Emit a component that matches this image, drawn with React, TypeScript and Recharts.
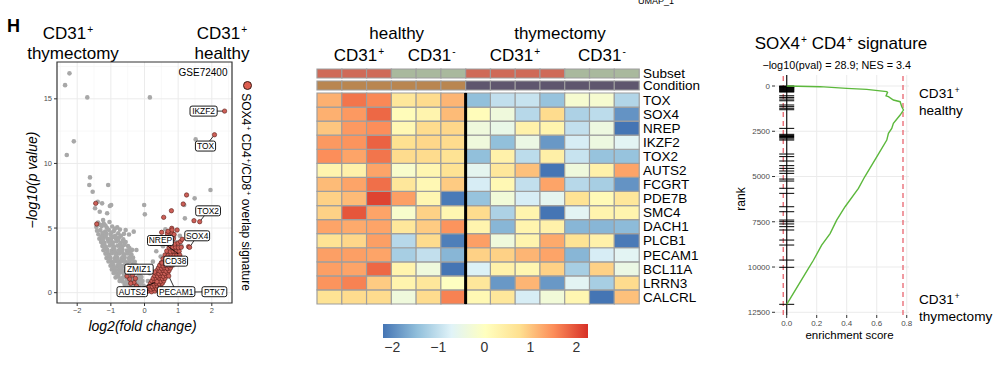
import React from 'react';
import {
  ScatterChart, Scatter, XAxis, YAxis, CartesianGrid, ReferenceArea, ReferenceLine,
  BarChart, Bar, Cell, ComposedChart,
} from 'recharts';

const FONT = '"Liberation Sans", Arial, Helvetica, sans-serif';

// ---------- volcano (GSE72400) ----------
const volcanoOther: [number, number][] = [
  [-2.23, 16.97], [-2.36, 16.06], [-1.70, 15.11], [0.16, 15.11], [1.52, 11.86], [-2.10, 11.71],
  [-2.31, 10.65], [-1.62, 8.92], [-1.64, 8.33], [-1.08, 8.33], [-1.54, 7.81], [-1.26, 6.91],
  [-1.03, 6.71], [-0.01, 6.78], [0.01, 6.06], [1.49, 7.30], [1.96, 7.94], [1.18, 6.78], [1.20, 5.75],
  [-1.39, 7.04], [-1.47, 6.53], [-1.33, 6.26], [-1.23, 5.62], [-1.11, 6.14], [-0.99, 6.78],
  [-0.56, 4.85], [-0.32, 4.72], [-0.24, 3.30],
  [-1.38, 5.42], [-1.21, 5.35], [-1.04, 5.47],
  [-1.43, 5.08], [-1.27, 5.15], [-1.12, 5.02], [-0.96, 5.12], [-0.81, 5.05],
  [-1.41, 4.79], [-1.31, 4.84], [-1.17, 4.73], [-1.06, 4.86], [-0.91, 4.77], [-0.73, 4.88],
  [-1.37, 4.52], [-1.24, 4.45], [-1.13, 4.58], [-1.01, 4.49], [-0.87, 4.41], [-0.61, 4.55], [-0.46, 4.50],
  [-1.34, 4.18], [-1.21, 4.25], [-1.09, 4.14], [-0.99, 4.22], [-0.85, 4.17], [-0.76, 4.27], [-0.63, 4.12],
  [-1.29, 3.93], [-1.19, 3.86], [-1.07, 3.95], [-0.94, 3.88], [-0.83, 3.97], [-0.71, 3.84], [-0.56, 3.92],
  [-1.25, 3.62], [-1.15, 3.55], [-1.03, 3.66], [-0.91, 3.58], [-0.79, 3.63], [-0.67, 3.54], [-0.49, 3.61],
  [-1.22, 3.28], [-1.11, 3.35], [-0.98, 3.24], [-0.89, 3.33], [-0.76, 3.27], [-0.66, 3.36], [-0.53, 3.25], [-0.37, 3.31],
  [-1.16, 3.02], [-1.05, 2.95], [-0.96, 3.06], [-0.83, 2.98], [-0.74, 3.04], [-0.61, 2.96], [-0.51, 3.03], [-0.39, 2.97],
  [-1.13, 2.68], [-1.02, 2.74], [-0.89, 2.66], [-0.81, 2.72], [-0.68, 2.65], [-0.59, 2.73], [-0.46, 2.67], [-0.34, 2.71],
  [-1.07, 2.42], [-0.96, 2.36], [-0.87, 2.44], [-0.75, 2.38], [-0.66, 2.45], [-0.54, 2.35], [-0.45, 2.43], [-0.29, 2.39],
  [-1.01, 2.08], [-0.93, 2.14], [-0.81, 2.05], [-0.71, 2.12], [-0.63, 2.06], [-0.51, 2.13], [-0.42, 2.07], [-0.26, 2.11],
  [-0.97, 1.79], [-0.88, 1.84], [-0.76, 1.77], [-0.68, 1.83], [-0.56, 1.76], [-0.48, 1.82], [-0.36, 1.78], [-0.23, 1.85],
  [-0.92, 1.52], [-0.81, 1.46], [-0.73, 1.54], [-0.61, 1.48], [-0.53, 1.55], [-0.41, 1.47], [-0.31, 1.53], [-0.17, 1.49],
  [-0.86, 1.18], [-0.77, 1.24], [-0.64, 1.16], [-0.56, 1.22], [-0.44, 1.17], [-0.35, 1.23], [-0.21, 1.19], [-0.09, 1.21],
  [-0.74, 0.91], [-0.65, 0.86], [-0.53, 0.93], [-0.43, 0.88], [-0.32, 0.92], [-0.21, 0.87], [-0.06, 0.90],
  [-0.59, 0.62], [-0.48, 0.57], [-0.39, 0.63], [-0.26, 0.58], [-0.16, 0.61], [-0.03, 0.56],
  [-0.41, 0.31], [-0.31, 0.27], [-0.17, 0.33], [-0.07, 0.28], [0.04, 0.32],
  [-0.21, 0.09], [-0.09, 0.12], [0.02, 0.08],
  [-1.32, 5.25], [-1.16, 5.20], [-0.88, 4.95], [-1.25, 4.62], [-0.98, 4.65], [-0.78, 4.60], [-1.28, 4.33],
  [-1.15, 4.38], [-0.93, 4.32], [-0.70, 4.40], [-1.24, 4.05], [-1.00, 4.06], [-0.78, 4.07], [-0.64, 3.98],
  [-1.20, 3.74], [-0.97, 3.78], [-0.73, 3.72], [-0.60, 3.70], [-1.17, 3.44], [-0.93, 3.46], [-0.71, 3.43],
  [-0.45, 3.45], [-1.10, 3.16], [-0.88, 3.17], [-0.67, 3.15], [-0.45, 3.18], [-1.07, 2.84], [-0.85, 2.86],
  [-0.63, 2.82], [-0.41, 2.85], [-1.02, 2.55], [-0.80, 2.57], [-0.60, 2.53], [-0.37, 2.56], [-0.97, 2.25],
  [-0.77, 2.27], [-0.57, 2.22], [-0.34, 2.26], [-0.92, 1.95], [-0.72, 1.97], [-0.52, 1.93], [-0.30, 1.96],
  [-0.86, 1.66], [-0.66, 1.64], [-0.47, 1.67], [-0.25, 1.63], [-0.80, 1.35], [-0.60, 1.37], [-0.40, 1.33],
  [-0.15, 1.36], [-0.69, 1.05], [-0.49, 1.03], [-0.27, 1.06], [-0.13, 1.04], [-0.55, 0.76], [-0.36, 0.75],
  [-0.10, 0.74], [-0.34, 0.45], [-0.22, 0.42], [-0.12, 0.20],
  [0.62, 4.90], [0.78, 4.60], [0.88, 4.30], [0.70, 4.10], [0.95, 3.90], [0.55, 3.60], [0.82, 3.50],
  [1.00, 3.30], [0.68, 3.10], [0.90, 2.90], [0.48, 2.80], [0.75, 2.50], [1.10, 3.60], [0.60, 2.20],
  [0.85, 2.10], [0.40, 1.90], [0.70, 1.60], [0.30, 1.20], [0.50, 1.00], [0.20, 0.60], [1.05, 4.40],
  [0.50, 4.30], [0.35, 3.20], [0.25, 2.40], [0.15, 1.50], [0.10, 0.90], [0.42, 3.90], [0.63, 3.80],
];

const volcanoSignature: [number, number][] = [
  [0.05, 0.08], [0.12, 0.13], [0.21, 0.07], [0.31, 0.12],
  [0.10, 0.32], [0.19, 0.27], [0.26, 0.34], [0.36, 0.29],
  [0.14, 0.52], [0.23, 0.47], [0.30, 0.54], [0.39, 0.49], [0.47, 0.53],
  [0.18, 0.72], [0.28, 0.68], [0.35, 0.74], [0.44, 0.69], [0.53, 0.73],
  [0.22, 0.92], [0.31, 0.88], [0.40, 0.93], [0.48, 0.87], [0.57, 0.91],
  [0.26, 1.12], [0.35, 1.07], [0.43, 1.13], [0.53, 1.08], [0.61, 1.11],
  [0.30, 1.32], [0.39, 1.28], [0.47, 1.33], [0.56, 1.27], [0.65, 1.31],
  [0.33, 1.52], [0.43, 1.47], [0.51, 1.53], [0.60, 1.48], [0.69, 1.52],
  [0.37, 1.72], [0.46, 1.68], [0.55, 1.73], [0.64, 1.67], [0.73, 1.71],
  [0.42, 1.92], [0.51, 1.88], [0.58, 1.93], [0.68, 1.87], [0.77, 1.91],
  [0.45, 2.12], [0.55, 2.07], [0.63, 2.13], [0.72, 2.08], [0.81, 2.11],
  [0.50, 2.32], [0.59, 2.27], [0.67, 2.33], [0.76, 2.28], [0.85, 2.31],
  [0.55, 2.62], [0.65, 2.57], [0.73, 2.63], [0.82, 2.58], [0.91, 2.61],
  [0.61, 2.92], [0.70, 2.87], [0.79, 2.93], [0.88, 2.88], [0.96, 2.91],
  [0.66, 3.22], [0.77, 3.17], [0.85, 3.23], [0.94, 3.18], [1.03, 3.21],
  [0.73, 3.52], [0.83, 3.47], [0.92, 3.53], [1.01, 3.48], [1.09, 3.51],
  [0.78, 3.82], [0.90, 3.77], [1.00, 3.83], [0.70, 4.22], [0.86, 4.17],
  [0.82, 4.62], [0.51, 4.67], [0.68, 4.58],
  [1.25, 7.56], [0.80, 6.34], [0.57, 5.83], [1.15, 6.86], [1.47, 5.57], [0.81, 4.98], [0.70, 4.75],
  [0.88, 4.50], [1.07, 3.95], [0.82, 4.85], [0.97, 4.85], [1.12, 4.13], [1.31, 3.56],
  [-1.45, 6.91], [-1.42, 5.31],
  [-0.52, 1.28], [-0.44, 1.05], [-0.36, 1.36], [-0.31, 0.78], [-0.24, 0.52], [-0.16, 0.31],
  [-0.06, 0.16], [-0.41, 0.72], [-0.27, 1.10],
];

const labeledGenes = ['IKZF2', 'TOX', 'TOX2', 'SOX4', 'NREP', 'CD38', 'ZMIZ1', 'AUTS2', 'PECAM1', 'PTK7'];
const labeledLogFC = [2.38, 2.08, 1.64, 1.34, 1.05, 0.52, 0.30, 0.37, 0.72, 1.42];
const labeledLogP = [14.05, 12.22, 5.49, 3.51, 2.90, 2.30, 1.60, 0.85, 1.29, 0.05];
const volcanoXTicks = [-2, -1, 0, 1, 2];
const volcanoYTicks = [0, 5, 10, 15];

// where each repelled label box sits, in pixels from its point
const labelNudge: Record<string, [number, number]> = {
  IKZF2: [-21, 0], TOX: [-9, 11.3], TOX2: [8.4, -10.9], SOX4: [7.6, -11.5], NREP: [-19.4, -14.7],
  CD38: [13.7, -1.8], ZMIZ1: [-15.6, -2.8], AUTS2: [-24.7, 10], PECAM1: [7.4, 15.7], PTK7: [22.1, -0.3],
};

// ---------- heatmap ----------
const genes = ['TOX', 'SOX4', 'NREP', 'IKZF2', 'TOX2', 'AUTS2', 'FCGRT', 'PDE7B', 'SMC4', 'DACH1', 'PLCB1', 'PECAM1', 'BCL11A', 'LRRN3', 'CALCRL'];
const samples = ['H1+', 'H2+', 'H3+', 'H1-', 'H2-', 'H3-', 'T1+', 'T2+', 'T3+', 'T4+', 'T1-', 'T2-', 'T3-'];
const sampleSubset = ['CD31+', 'CD31+', 'CD31+', 'CD31-', 'CD31-', 'CD31-', 'CD31+', 'CD31+', 'CD31+', 'CD31+', 'CD31-', 'CD31-', 'CD31-'];
const sampleCondition = ['healthy', 'healthy', 'healthy', 'healthy', 'healthy', 'healthy', 'thymectomy', 'thymectomy', 'thymectomy', 'thymectomy', 'thymectomy', 'thymectomy', 'thymectomy'];
const zScores: number[][] = [
  [1.2, 1.7, 1.55, 0.6, 0.8, 1.15, -1.45, -1.0, -0.95, -1.4, -0.2, -0.2, -1.15],
  [1.2, 1.4, 1.8, 0.1, 0.3, 1.1, 0.1, -0.35, -1.1, 0.8, -1.2, -1.05, -1.9],
  [1.0, 1.4, 1.5, 0.2, 0.8, 0.85, -0.35, -0.5, 0.35, 0.3, -1.0, -0.4, -2.2],
  [1.4, 1.45, 1.85, 0.75, 0.85, 0.8, -0.35, -1.45, -0.45, -1.85, -0.8, -0.4, -0.65],
  [1.5, 1.3, 1.7, 0.8, 0.8, 0.7, -1.45, 0.35, -1.05, 0.4, -0.95, -1.4, -1.4],
  [0.3, 0.35, 1.3, -0.15, 0.25, 0.7, -0.6, 0.6, 1.05, -2.2, -0.35, 0.35, 1.3],
  [1.1, 1.3, 1.75, 0.6, 0.2, 0.95, -0.8, 0.2, -1.0, 1.3, -1.1, -1.25, -1.9],
  [0.9, 1.1, 2.1, 1.35, 0.25, -2.15, -1.4, -0.3, -0.8, -0.6, 0.7, 0.15, 0.6],
  [0.9, 1.95, 1.3, -0.15, 0.9, 0.25, 0.8, -1.2, 0.3, -2.2, -0.65, 0.3, 0.3],
  [1.3, 1.25, 1.3, 0.6, 0.95, 1.45, 0.3, -1.55, 0.3, 0.35, -1.55, -1.55, -1.5],
  [0.7, 0.85, 1.35, -1.1, 0.8, -2.1, 1.35, -0.35, 0.3, 1.25, 0.7, 0.35, -2.15],
  [1.35, 1.35, 1.3, -1.25, -1.0, -1.55, 0.9, 0.9, 1.15, 1.3, -1.55, -0.8, -0.65],
  [1.35, 1.3, 1.8, 0.3, -0.35, -2.2, -0.75, 0.35, 0.25, 0.9, -1.25, 0.9, -0.45],
  [1.45, 1.6, 0.95, 0.3, 0.6, 0.0, 0.6, -1.85, 1.15, -1.85, -0.65, -1.25, 0.8],
  [0.7, 0.8, 0.8, -0.35, 0.8, 1.6, 0.2, 0.6, -0.8, -0.3, 0.25, -2.2, 1.05],
];
const colorbarTicks = [-2, -1, 0, 1, 2];
const colorMin = -2.2;
const colorMax = 2.25;
const palette = ['#4575B4', '#91BFDB', '#E0F3F8', '#FFFFBF', '#FEE090', '#FC8D59', '#D73027'];
const subsetColors: Record<string, string> = { 'CD31+': '#cf6a58', 'CD31-': '#a9b99d' };
const conditionColors: Record<string, string> = { healthy: '#b98650', thymectomy: '#5f566e' };

// ---------- GSEA ----------
const curveRank = [0, 37, 129, 184, 313, 350, 540, 590, 774, 867, 1144, 1327, 1604, 2063, 2340, 2616, 2987, 3910, 5015, 5658, 6670, 7412, 8150, 8795, 9625, 10085, 12058];
const curveES = [0, 0.222, 0.4, 0.533, 0.667, 0.672, 0.662, 0.678, 0.711, 0.756, 0.767, 0.778, 0.756, 0.711, 0.7, 0.678, 0.667, 0.6, 0.52, 0.478, 0.389, 0.333, 0.289, 0.233, 0.178, 0.144, 0];
const hitRanks = [5, 18, 34, 52, 70, 95, 120, 150, 178, 205, 240, 270, 300, 335, 540, 630, 720, 815, 1050, 1140, 1230, 1310,
  2340, 2670, 2730, 2790, 2850, 2920, 2985, 3757, 3900, 4143, 4400, 4550, 4695, 4825, 5140, 5250, 5650, 5930,
  6670, 6945, 7405, 7495, 7620, 7770, 7955, 8510, 8785, 9615, 10015, 12060];
const rankTicks = [0, 2500, 5000, 7500, 10000, 12500];
const esTicks = [0, 0.2, 0.4, 0.6, 0.8];
const esMax = 0.775;
const esMin = -0.023;

const minus = (v: number) => (v < 0 ? '\u2212' + Math.abs(v) : String(v));

function hexToRgb(h: string) {
  return [1, 3, 5].map((i) => parseInt(h.slice(i, i + 2), 16));
}
function heatColor(v: number) {
  const t = Math.max(0, Math.min(1, (v - colorMin) / (colorMax - colorMin))) * (palette.length - 1);
  const i = Math.min(palette.length - 2, Math.floor(t));
  const f = t - i;
  const a = hexToRgb(palette[i]);
  const b = hexToRgb(palette[i + 1]);
  const c = a.map((x, k) => Math.round(x + (b[k] - x) * f));
  return `rgb(${c[0]},${c[1]},${c[2]})`;
}

function textWidth(s: string, size: number) {
  let w = 0;
  for (const ch of s) {
    if (/[0-9]/.test(ch)) w += 0.556;
    else if (ch === 'I') w += 0.278;
    else if (ch === 'M') w += 0.833;
    else w += 0.68;
  }
  return w * size;
}

const Sup = ({ c }: { c: string }) => (
  <span style={{ fontSize: '0.6em', position: 'relative', top: '-0.6em', marginLeft: 1 }}>{c}</span>
);

type TProps = { x: number; y: number; size: number; children: React.ReactNode; anchor?: 'middle' | 'start'; rotate?: number; style?: React.CSSProperties };
const T = ({ x, y, size, children, anchor = 'middle', rotate = 0, style }: TProps) => (
  <div
    style={{
      position: 'absolute', left: x, top: y, fontSize: size, lineHeight: 1, whiteSpace: 'nowrap',
      transform: `translate(${anchor === 'middle' ? '-50%' : '0'}, -50%) rotate(${rotate}deg)`,
      transformOrigin: anchor === 'middle' ? 'center' : 'left center',
      ...style,
    }}
  >
    {children}
  </div>
);

const RED = '#cc5f57';
const RED_EDGE = '#5a1f1a';

const grayDot = (p: any) => <circle cx={p.cx} cy={p.cy} r={2.3} fill="#a8a8a8" />;
const redDot = (p: any) => <circle cx={p.cx} cy={p.cy} r={2.2} fill={RED} stroke={RED_EDGE} strokeWidth={0.6} />;
const leader = (p: any) => {
  const [dx, dy] = labelNudge[p.payload.gene];
  return (
    <g>
      <line x1={p.cx} y1={p.cy} x2={p.cx + dx} y2={p.cy + dy} stroke="#000" strokeWidth={0.8} />
      <circle cx={p.cx} cy={p.cy} r={2.2} fill={RED} stroke={RED_EDGE} strokeWidth={0.6} />
    </g>
  );
};
const labelBox = (p: any) => {
  const gene: string = p.payload.gene;
  const [dx, dy] = labelNudge[gene];
  const w = textWidth(gene, 8.4) + 3;
  const h = 10;
  const bx = p.cx + dx;
  const by = p.cy + dy;
  return (
    <g>
      <rect x={bx - w / 2} y={by - h / 2} width={w} height={h} rx={2} fill="#fff" stroke="#000" strokeWidth={0.9} />
      <text x={bx} y={by + 3} textAnchor="middle" fontSize={8.4} fontFamily={FONT} fill="#000">{gene}</text>
    </g>
  );
};
const hitTick = (p: any) => <line x1={p.cx - 7.5} x2={p.cx + 7.5} y1={p.cy} y2={p.cy} stroke="#000" strokeWidth={1} />;
const noDot = () => <g />;

const axisTick = { fontSize: 7.5, fill: '#4d4d4d', fontFamily: FONT };

function Volcano() {
  const other = volcanoOther.map(([x, y]) => ({ x, y }));
  const sig = volcanoSignature.map(([x, y]) => ({ x, y }));
  const labeled = labeledGenes.map((gene, i) => ({ gene, x: labeledLogFC[i], y: labeledLogP[i] }));
  return (
    <ScatterChart width={218} height={266} margin={{ top: 5, right: 3, bottom: 0, left: 0 }}>
      <CartesianGrid horizontalValues={[2.5, 7.5, 12.5, 17.5]} verticalValues={[-2.5, -1.5, -0.5, 0.5, 1.5, 2.5]} stroke="#f3f3f3" strokeWidth={0.6} />
      <CartesianGrid horizontalValues={volcanoYTicks} verticalValues={volcanoXTicks} stroke="#ebebeb" strokeWidth={1} />
      <XAxis type="number" dataKey="x" domain={[-2.6, 2.6]} ticks={volcanoXTicks} height={20} tickSize={3} tickMargin={2}
        axisLine={false} tickLine={{ stroke: '#333' }} tick={axisTick} tickFormatter={minus} allowDataOverflow interval={0} />
      <YAxis type="number" dataKey="y" domain={[-0.8, 17.85]} ticks={volcanoYTicks} width={40} tickSize={3} tickMargin={2}
        axisLine={false} tickLine={{ stroke: '#333' }} tick={axisTick} allowDataOverflow interval={0} />
      <Scatter data={other} shape={grayDot} isAnimationActive={false} />
      <Scatter data={sig} shape={redDot} isAnimationActive={false} />
      <Scatter data={labeled} shape={leader} isAnimationActive={false} />
      <Scatter data={labeled} shape={labelBox} isAnimationActive={false} />
      <ReferenceArea x1={-2.6} x2={2.6} y1={-0.8} y2={17.85} fill="none" fillOpacity={0} stroke="#333" strokeWidth={1.2} />
    </ScatterChart>
  );
}

function AnnotationRow({ label, values, colors }: { label: string; values: string[]; colors: Record<string, string> }) {
  const rows = samples.map((s) => ({ sample: s, cell: 1 }));
  return (
    <BarChart width={384} height={21} data={rows} margin={{ top: 6, right: 0, bottom: 6, left: 1 }} barCategoryGap={0} barGap={0}>
      <XAxis dataKey="sample" hide />
      <YAxis type="number" orientation="right" domain={[0, 1]} ticks={[0.5]} tickFormatter={() => label} width={61}
        axisLine={false} tickLine={false} tickSize={0} tickMargin={4} interval={0} tick={{ fontSize: 13.5, fill: '#000', fontFamily: FONT }} />
      <Bar dataKey="cell" isAnimationActive={false} stroke="#9e9e9e" strokeWidth={1.2}>
        {values.map((v, j) => <Cell key={samples[j]} fill={colors[v]} />)}
      </Bar>
    </BarChart>
  );
}

function Heatmap() {
  const table = samples.map((s) => Object.fromEntries([['sample', s], ...genes.map((g) => [g, 1])]));
  const stacked = [...genes].reverse();
  return (
    <BarChart width={384} height={213} data={table} margin={{ top: 1, right: 0, bottom: 1, left: 1 }} barCategoryGap={0} barGap={0}>
      <XAxis dataKey="sample" hide />
      <YAxis type="number" orientation="right" domain={[0, genes.length]} ticks={genes.map((_, i) => i + 0.5)}
        tickFormatter={(v: number) => stacked[Math.floor(v)]} width={61} axisLine={false} tickLine={false}
        tickSize={0} tickMargin={4} interval={0} tick={{ fontSize: 13.5, fill: '#000', fontFamily: FONT }} />
      {stacked.map((g) => {
        const gi = genes.indexOf(g);
        return (
          <Bar key={g} dataKey={g} stackId="h" isAnimationActive={false} stroke="#9e9e9e" strokeWidth={1.2}>
            {samples.map((s, j) => <Cell key={s} fill={heatColor(zScores[gi][j])} />)}
          </Bar>
        );
      })}
      <ReferenceLine x={samples[6]} position="start" stroke="#000" strokeWidth={3} />
    </BarChart>
  );
}

function ColorBar() {
  const gradient = `linear-gradient(to right, ${palette.join(', ')})`;
  return (
    <div style={{ position: 'relative', width: 205, height: 34 }}>
      <div style={{ position: 'absolute', left: 0, top: 0, width: 205, height: 14, background: gradient }} />
      <div style={{ position: 'absolute', left: 0, top: 0 }}>
        <ComposedChart width={205} height={34} data={colorbarTicks.map((v) => ({ v }))} margin={{ top: 0, right: 0, bottom: 0, left: 0 }}>
          <XAxis type="number" dataKey="v" domain={[colorMin, colorMax]} ticks={colorbarTicks} height={20} axisLine={false}
            tickLine={false} tickSize={0} tickMargin={4} interval={0} tickFormatter={minus} tick={{ fontSize: 14, fill: '#333', fontFamily: FONT }} />
          <YAxis hide domain={[0, 1]} />
        </ComposedChart>
      </div>
    </div>
  );
}

function Enrichment() {
  const curve = curveRank.map((rank, i) => ({ rank, es: curveES[i] }));
  const hits = hitRanks.map((rank) => ({ rank, es: 0 }));
  return (
    <ScatterChart width={185} height={268} margin={{ top: 5, right: 6, bottom: 0, left: 0 }}>
      <CartesianGrid horizontalValues={rankTicks} verticalValues={esTicks} stroke="#ebebeb" strokeWidth={1} />
      <XAxis type="number" dataKey="es" domain={[-0.078, 0.815]} ticks={esTicks} height={23} tickSize={3} tickMargin={2}
        axisLine={false} tickLine={{ stroke: '#333' }} tick={{ ...axisTick, fontSize: 8 }} tickFormatter={(v: number) => v.toFixed(1)} interval={0} allowDataOverflow />
      <YAxis type="number" dataKey="rank" reversed domain={[-608, 12650]} ticks={rankTicks} width={45} tickSize={3} tickMargin={2}
        axisLine={false} tickLine={{ stroke: '#333' }} tick={{ ...axisTick, fontSize: 8 }} interval={0} allowDataOverflow />
      <ReferenceLine x={0} stroke="#222" strokeWidth={1.3} />
      <ReferenceLine x={esMin} stroke="#e8646e" strokeWidth={1.3} strokeDasharray="5 4" />
      <ReferenceLine x={esMax} stroke="#e8646e" strokeWidth={1.3} strokeDasharray="5 4" />
      <Scatter data={hits} shape={hitTick} isAnimationActive={false} />
      <Scatter data={curve} shape={noDot} line={{ stroke: '#5cb83c', strokeWidth: 1.4 }} lineType="joint" isAnimationActive={false} />
    </ScatterChart>
  );
}

export default function App() {
  return (
    <div style={{ position: 'absolute', left: 0, top: 0, width: 1000, height: 373, background: '#fff', fontFamily: FONT, color: '#000', overflow: 'hidden' }}>
      {/* cut-off bits of the panels above */}
      <T x={638} y={1} size={9} anchor="start">UMAP_1</T>
      <T x={792} y={-5} size={14} anchor="start" style={{ color: '#aaa' }}>CD31<Sup c="+" /> CD4<Sup c="+" /></T>
      <T x={933} y={-5} size={14} anchor="start">SOX4<Sup c="+" /> CD4<Sup c="+" /></T>

      {/* panel H: volcano */}
      <T x={13.5} y={26} size={18} style={{ fontWeight: 'bold' }}>H</T>
      <T x={68} y={33} size={17}>CD31<Sup c="+" /></T>
      <T x={73} y={53.3} size={17}>thymectomy</T>
      <T x={222} y={33} size={17}>CD31<Sup c="+" /></T>
      <T x={222} y={53.3} size={17}>healthy</T>
      <div style={{ position: 'absolute', left: 17, top: 57 }}>
        <Volcano />
      </div>
      <T x={203} y={73.3} size={10}>GSE72400</T>
      <div style={{ position: 'absolute', left: 242.5, top: 80.5, width: 7, height: 7, borderRadius: '50%', background: '#dd5e50', border: '0.8px solid #3a1a14' }} />
      <T x={246} y={191.5} size={12} rotate={90}>SOX4<Sup c="+" /> CD4<Sup c="+" />/CD8<Sup c="+" /> overlap signature</T>
      <T x={31.5} y={180} size={14} rotate={-90} style={{ fontStyle: 'italic' }}>{'\u2212'}log10(p value)</T>
      <T x={142.5} y={325.7} size={14} style={{ fontStyle: 'italic' }}>log2(fold change)</T>

      {/* heatmap */}
      <T x={396.7} y={32.7} size={17}>healthy</T>
      <T x={560} y={32.7} size={17}>thymectomy</T>
      <T x={359} y={55} size={17}>CD31<Sup c="+" /></T>
      <T x={431.7} y={55} size={17}>CD31<Sup c="-" /></T>
      <T x={515} y={55} size={17}>CD31<Sup c="+" /></T>
      <T x={602} y={55} size={17}>CD31<Sup c="-" /></T>
      <div style={{ position: 'absolute', left: 316, top: 63 }}>
        <AnnotationRow label="Subset" values={sampleSubset} colors={subsetColors} />
      </div>
      <div style={{ position: 'absolute', left: 316, top: 74.5 }}>
        <AnnotationRow label="Condition" values={sampleCondition} colors={conditionColors} />
      </div>
      <div style={{ position: 'absolute', left: 316, top: 92 }}>
        <Heatmap />
      </div>
      <div style={{ position: 'absolute', left: 383, top: 324 }}>
        <ColorBar />
      </div>

      {/* GSEA */}
      <T x={841} y={43.3} size={17}>SOX4<Sup c="+" /> CD4<Sup c="+" /> signature</T>
      <T x={836.7} y={65} size={10.8}>{'\u2212'}log10(pval) = 28.9; NES = 3.4</T>
      <div style={{ position: 'absolute', left: 730, top: 70 }}>
        <Enrichment />
      </div>
      <T x={919} y={94} size={13.6} anchor="start">CD31<Sup c="+" /></T>
      <T x={919} y={110.5} size={13.6} anchor="start">healthy</T>
      <T x={919} y={300} size={13.6} anchor="start">CD31<Sup c="+" /></T>
      <T x={919} y={316.7} size={13.6} anchor="start">thymectomy</T>
      <T x={741} y={199} size={12} rotate={-90}>rank</T>
      <T x={849.5} y={336} size={11.5}>enrichment score</T>
    </div>
  );
}
